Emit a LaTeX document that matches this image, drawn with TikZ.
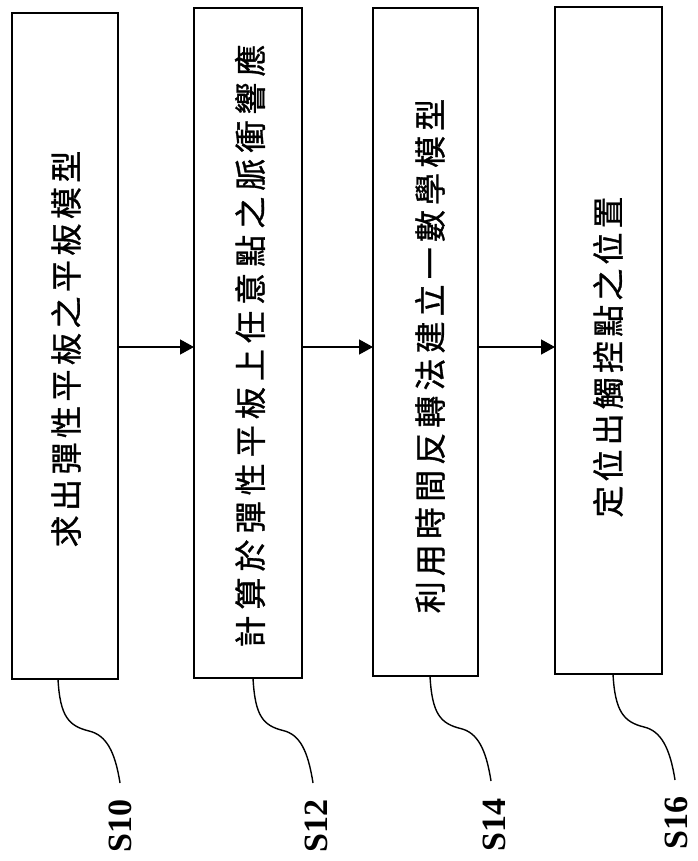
\documentclass[tikz,border=0pt]{standalone}
\usepackage{fontspec}
\setmainfont{Liberation Serif}
\newfontfamily\cjk[FakeBold=1]{Noto Sans CJK TC}
\usetikzlibrary{arrows.meta,calc,fit}
\newcommand{\cjkls}[1]{\cjk\fontsize{32}{32}\selectfont\addfontfeatures{LetterSpace=#1}}
\begin{document}
\begin{tikzpicture}[x=1pt,y=-1pt,
  stepbox/.style={draw=black,line width=1.8pt,inner sep=0pt,outer sep=0pt},
  steptext/.style={rotate=90,inner sep=0pt,anchor=center},
  arr/.style={line width=1.4pt,-{Triangle[length=14pt,width=15pt]}},
  lead/.style={line width=1.4pt},
  lbl/.style={rotate=90,inner sep=0pt,font=\fontsize{34}{34}\selectfont\bfseries}]
\useasboundingbox[fill=white] (0,0) rectangle (697,861);
% boxes
\coordinate (b1nw) at (12,13);  \coordinate (b1se) at (118,679);
\coordinate (b2nw) at (194,8);  \coordinate (b2se) at (302,678);
\coordinate (b3nw) at (373,8);  \coordinate (b3se) at (478,676);
\coordinate (b4nw) at (555,7);  \coordinate (b4se) at (662,674);
\node[stepbox,fit=(b1nw)(b1se)] (b1) {};
\node[stepbox,fit=(b2nw)(b2se)] (b2) {};
\node[stepbox,fit=(b3nw)(b3se)] (b3) {};
\node[stepbox,fit=(b4nw)(b4se)] (b4) {};
% texts
\node[steptext,font=\cjkls{14}] (t1) at (66,349) {求出彈性平板之平板模型};
\node[steptext,font=\cjkls{19}] (t2) at (250,346) {計算於彈性平板上任意點之脈衝響應};
\node[steptext,font=\cjkls{16}] (t3) at (430,356) {利用時間反轉法建立一數學模型};
\node[steptext,font=\cjkls{13}] (t4) at (608,357) {定位出觸控點之位置};
% arrows
\coordinate (ay) at (0,347);
\draw[arr] (b1.east |- ay) -- (b2.west |- ay);
\draw[arr] (b2.east |- ay) -- (b3.west |- ay);
\draw[arr] (b3.east |- ay) -- (b4.west |- ay);
% labels
\node[lbl] (l1) at (120,826) {S10};
\node[lbl] (l2) at (316,826) {S12};
\node[lbl] (l3) at (494,825) {S14};
\node[lbl] (l4) at (676,823) {S16};
% leaders
\coordinate (s1) at (58,679);  \coordinate (e1) at (120,783);
\coordinate (s2) at (253,678); \coordinate (e2) at (313,783);
\coordinate (s3) at (430,676); \coordinate (e3) at (491,781);
\coordinate (s4) at (613,674); \coordinate (e4) at (675,780);
\foreach \i in {1,2,3,4}{
  \draw[lead] (s\i) .. controls +(2,38) and +(-20,-5) .. ($(s\i)!0.5!(e\i)$)
     .. controls +(17,4) and +(-5,-32) .. (e\i);
}
\end{tikzpicture}
\end{document}
